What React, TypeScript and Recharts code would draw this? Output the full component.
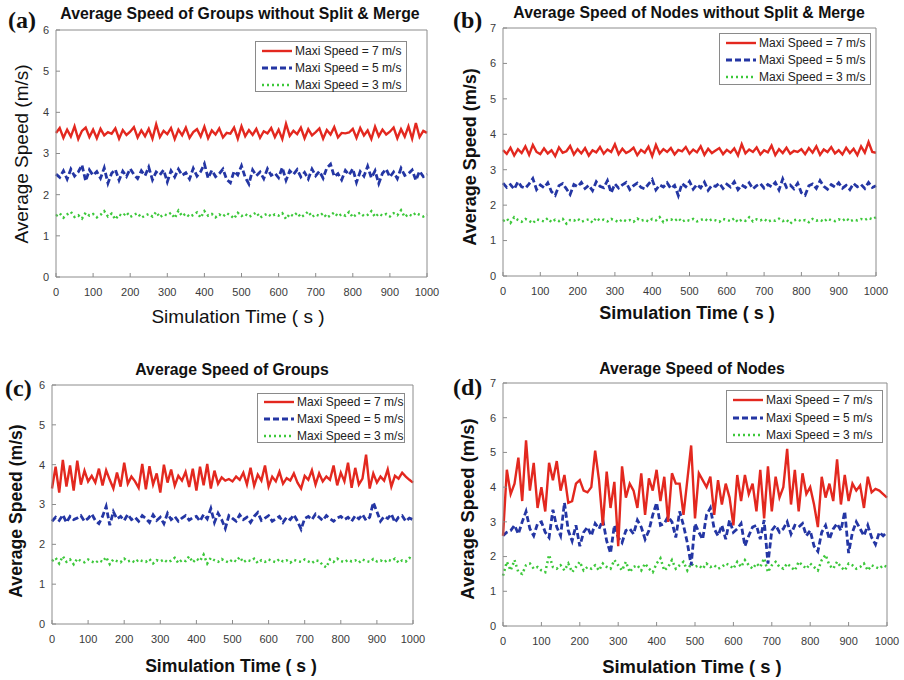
import { Line, LineChart, XAxis, YAxis } from "recharts";

// simulation time (s), one sample every 10 s
const TIME = [
  0, 10, 20, 30, 40, 50, 60, 70, 80, 90, 100, 110, 120, 130, 140, 150, 160, 170, 180, 190,
  200, 210, 220, 230, 240, 250, 260, 270, 280, 290, 300, 310, 320, 330, 340, 350, 360, 370, 380, 390,
  400, 410, 420, 430, 440, 450, 460, 470, 480, 490, 500, 510, 520, 530, 540, 550, 560, 570, 580, 590,
  600, 610, 620, 630, 640, 650, 660, 670, 680, 690, 700, 710, 720, 730, 740, 750, 760, 770, 780, 790,
  800, 810, 820, 830, 840, 850, 860, 870, 880, 890, 900, 910, 920, 930, 940, 950, 960, 970, 980, 990,
  1000,
];
const X_TICKS = [0, 100, 200, 300, 400, 500, 600, 700, 800, 900, 1000];
const Y_TICKS_6 = [0, 1, 2, 3, 4, 5, 6];
const Y_TICKS_7 = [0, 1, 2, 3, 4, 5, 6, 7];
const LEGEND_LABELS = ["Maxi Speed = 7 m/s", "Maxi Speed = 5 m/s", "Maxi Speed = 3 m/s"];

// (a) groups without split & merge
const A_RED = [
  3.50, 3.62, 3.38, 3.58, 3.41, 3.66, 3.35, 3.55, 3.63, 3.40,
  3.58, 3.37, 3.60, 3.44, 3.52, 3.48, 3.61, 3.36, 3.57, 3.45,
  3.53, 3.64, 3.39, 3.56, 3.42, 3.60, 3.36, 3.71, 3.40, 3.55,
  3.47, 3.62, 3.35, 3.58, 3.44, 3.63, 3.38, 3.52, 3.59, 3.41,
  3.65, 3.37, 3.56, 3.46, 3.61, 3.39, 3.50, 3.48, 3.63, 3.36,
  3.66, 3.42, 3.57, 3.45, 3.60, 3.38, 3.54, 3.49, 3.62, 3.40,
  3.58, 3.35, 3.72, 3.43, 3.55, 3.47, 3.63, 3.37, 3.59, 3.44,
  3.52, 3.61, 3.36, 3.57, 3.46, 3.64, 3.39, 3.50, 3.49, 3.51,
  3.60, 3.38, 3.62, 3.44, 3.56, 3.35, 3.65, 3.42, 3.58, 3.46,
  3.53, 3.63, 3.37, 3.59, 3.41, 3.66, 3.36, 3.74, 3.40, 3.55,
  3.50,
];
const A_BLUE = [
  2.50, 2.42, 2.58, 2.38, 2.62, 2.45, 2.55, 2.72, 2.33, 2.60,
  2.47, 2.56, 2.40, 2.65, 2.28, 2.52, 2.61, 2.35, 2.57, 2.44,
  2.63, 2.49, 2.39, 2.58, 2.46, 2.67, 2.36, 2.55, 2.48, 2.60,
  2.31, 2.58, 2.43, 2.62, 2.47, 2.53, 2.38, 2.64, 2.45, 2.56,
  2.75, 2.40, 2.59, 2.44, 2.51, 2.62, 2.37, 2.29, 2.57, 2.48,
  2.70, 2.42, 2.26, 2.60, 2.46, 2.55, 2.39, 2.63, 2.47, 2.52,
  2.41, 2.66, 2.35, 2.58, 2.49, 2.61, 2.43, 2.54, 2.38, 2.62,
  2.46, 2.57, 2.40, 2.65, 2.74, 2.44, 2.51, 2.36, 2.59, 2.48,
  2.63, 2.30, 2.56, 2.45, 2.69, 2.41, 2.58, 2.27, 2.52, 2.62,
  2.43, 2.55, 2.39, 2.64, 2.47, 2.51, 2.60, 2.35, 2.57, 2.44,
  2.50,
];
const A_GREEN = [
  1.48, 1.55, 1.44, 1.52, 1.58, 1.46, 1.50, 1.42, 1.56, 1.49,
  1.53, 1.45, 1.51, 1.60, 1.47, 1.54, 1.40, 1.52, 1.48, 1.57,
  1.46, 1.51, 1.55, 1.44, 1.49, 1.53, 1.47, 1.58, 1.45, 1.52,
  1.50, 1.56, 1.43, 1.61, 1.48, 1.54, 1.46, 1.51, 1.57, 1.44,
  1.60, 1.49, 1.53, 1.45, 1.52, 1.47, 1.55, 1.50, 1.42, 1.56,
  1.48, 1.53, 1.46, 1.51, 1.57, 1.44, 1.50, 1.54, 1.47, 1.52,
  1.49, 1.55, 1.41, 1.53, 1.48, 1.56, 1.45, 1.51, 1.59, 1.46,
  1.52, 1.48, 1.55, 1.44, 1.50, 1.57, 1.47, 1.53, 1.49, 1.58,
  1.45, 1.52, 1.56, 1.48, 1.51, 1.60, 1.46, 1.54, 1.49, 1.53,
  1.47, 1.55, 1.50, 1.62, 1.46, 1.53, 1.48, 1.56, 1.51, 1.47,
  1.52,
];

// (b) nodes without split & merge
const B_RED = [
  3.55, 3.45, 3.62, 3.40, 3.58, 3.47, 3.66, 3.42, 3.70, 3.50,
  3.44, 3.60, 3.46, 3.55, 3.38, 3.63, 3.48, 3.52, 3.67, 3.43,
  3.58, 3.46, 3.61, 3.40, 3.55, 3.49, 3.64, 3.45, 3.57, 3.50,
  3.72, 3.44, 3.59, 3.47, 3.53, 3.62, 3.41, 3.56, 3.48, 3.65,
  3.38, 3.70, 3.46, 3.58, 3.50, 3.61, 3.43, 3.56, 3.52, 3.64,
  3.45, 3.57, 3.49, 3.66, 3.42, 3.59, 3.47, 3.54, 3.61, 3.44,
  3.56, 3.48, 3.60, 3.40, 3.72, 3.46, 3.57, 3.50, 3.63, 3.43,
  3.55, 3.49, 3.68, 3.41, 3.58, 3.47, 3.62, 3.45, 3.53, 3.50,
  3.58, 3.44, 3.61, 3.48, 3.66, 3.42, 3.57, 3.50, 3.64, 3.46,
  3.55, 3.43, 3.62, 3.47, 3.59, 3.41, 3.66, 3.48, 3.78, 3.50,
  3.48,
];
const B_BLUE = [
  2.62, 2.50, 2.58, 2.45, 2.66, 2.52, 2.48, 2.60, 2.75, 2.44,
  2.57, 2.49, 2.63, 2.38, 2.28, 2.55, 2.61, 2.46, 2.30, 2.58,
  2.52, 2.64, 2.47, 2.56, 2.41, 2.66, 2.53, 2.49, 2.69, 2.35,
  2.60, 2.48, 2.57, 2.64, 2.44, 2.55, 2.62, 2.50, 2.46, 2.59,
  2.72, 2.43, 2.57, 2.51, 2.63, 2.47, 2.56, 2.27, 2.61, 2.52,
  2.67, 2.45, 2.58, 2.49, 2.65, 2.42, 2.56, 2.53, 2.62, 2.47,
  2.59, 2.51, 2.66, 2.44, 2.57, 2.50, 2.63, 2.46, 2.55, 2.61,
  2.48, 2.58, 2.52, 2.64, 2.43, 2.74, 2.50, 2.57, 2.46, 2.62,
  2.35, 2.28, 2.55, 2.60, 2.47, 2.69, 2.53, 2.45, 2.58, 2.51,
  2.63, 2.48, 2.56, 2.44, 2.61, 2.52, 2.58, 2.47, 2.64, 2.50,
  2.55,
];
const B_GREEN = [
  1.55, 1.62, 1.50, 1.66, 1.58, 1.53, 1.61, 1.56, 1.49, 1.60,
  1.57, 1.54, 1.63, 1.52, 1.59, 1.55, 1.61, 1.48, 1.58, 1.56,
  1.62, 1.53, 1.57, 1.60, 1.51, 1.64, 1.56, 1.59, 1.54, 1.61,
  1.57, 1.52, 1.60, 1.55, 1.58, 1.53, 1.62, 1.56, 1.59, 1.54,
  1.61, 1.57, 1.66, 1.52, 1.58, 1.60, 1.55, 1.63, 1.53, 1.59,
  1.56, 1.61, 1.54, 1.58, 1.62, 1.55, 1.60, 1.57, 1.53, 1.61,
  1.58, 1.55, 1.63, 1.52, 1.59, 1.56, 1.66, 1.54, 1.60, 1.57,
  1.61, 1.53, 1.58, 1.56, 1.62, 1.55, 1.59, 1.48, 1.57, 1.60,
  1.54, 1.58, 1.52, 1.61, 1.56, 1.59, 1.53, 1.62, 1.57, 1.55,
  1.60, 1.56, 1.63, 1.54, 1.59, 1.57, 1.61, 1.58, 1.64, 1.60,
  1.66,
];

// (c) groups
const C_RED = [
  3.40, 3.95, 3.30, 4.12, 3.45, 3.98, 3.35, 4.10, 3.50, 3.85,
  3.58, 3.72, 3.55, 3.90, 3.48, 3.86, 3.62, 3.40, 3.80, 3.45,
  4.05, 3.52, 3.70, 3.58, 3.42, 4.02, 3.38, 3.96, 3.50, 3.78,
  3.30, 4.00, 3.55, 3.88, 3.47, 3.72, 3.60, 3.82, 3.44, 3.90,
  3.35, 3.95, 3.48, 4.02, 3.40, 3.85, 3.52, 3.68, 3.60, 3.64,
  3.58, 3.70, 3.62, 3.80, 3.50, 3.92, 3.47, 3.75, 3.60, 3.98,
  3.45, 3.70, 3.58, 3.82, 3.52, 3.66, 3.60, 3.78, 3.55, 3.40,
  3.72, 3.62, 3.86, 3.50, 3.78, 3.58, 3.70, 3.62, 3.98, 3.48,
  3.80, 3.58, 4.05, 3.42, 3.92, 3.50, 3.65, 4.25, 3.40, 3.78,
  3.55, 3.70, 3.60, 3.88, 3.45, 3.72, 3.65, 3.80, 3.70, 3.62,
  3.55,
];
const C_BLUE = [
  2.58, 2.68, 2.60, 2.74, 2.55, 2.70, 2.62, 2.66, 2.72, 2.58,
  2.65, 2.76, 2.60, 2.52, 2.70, 2.95, 2.48, 2.82, 2.64, 2.70,
  2.60, 2.75, 2.62, 2.68, 2.58, 2.72, 2.65, 2.55, 2.74, 2.60,
  2.68, 2.52, 2.78, 2.62, 2.70, 2.58, 2.66, 2.72, 2.61, 2.67,
  2.70, 2.58, 2.75, 2.64, 2.90, 2.55, 2.78, 2.62, 2.40, 2.72,
  2.65, 2.58, 2.74, 2.62, 2.68, 2.55, 2.70, 2.80, 2.60, 2.66,
  2.72, 2.58, 2.64, 2.70, 2.55, 2.68, 2.62, 2.74, 2.58, 2.38,
  2.65, 2.70, 2.62, 2.76, 2.68, 2.60, 2.72, 2.64, 2.58, 2.66,
  2.70, 2.62, 2.68, 2.58, 2.72, 2.64, 2.75, 2.60, 2.68, 3.05,
  2.82, 2.58, 2.70, 2.65, 2.76, 2.55, 2.68, 2.72, 2.58, 2.66,
  2.62,
];
const C_GREEN = [
  1.58, 1.66, 1.52, 1.70, 1.56, 1.62, 1.50, 1.64, 1.58, 1.55,
  1.62, 1.57, 1.53, 1.60, 1.56, 1.68, 1.50, 1.62, 1.58, 1.55,
  1.64, 1.57, 1.60, 1.54, 1.62, 1.58, 1.56, 1.63, 1.52, 1.60,
  1.57, 1.62, 1.55, 1.59, 1.66, 1.53, 1.61, 1.58, 1.70, 1.55,
  1.64, 1.58, 1.74, 1.52, 1.66, 1.60, 1.56, 1.63, 1.58, 1.54,
  1.62, 1.57, 1.68, 1.55, 1.61, 1.58, 1.64, 1.53, 1.60, 1.56,
  1.62, 1.58, 1.55, 1.63, 1.57, 1.60, 1.54, 1.61, 1.58, 1.56,
  1.62, 1.57, 1.53, 1.60, 1.58, 1.48, 1.42, 1.62, 1.56, 1.64,
  1.58, 1.55, 1.61, 1.57, 1.60, 1.54, 1.62, 1.58, 1.56, 1.63,
  1.57, 1.60, 1.55, 1.62, 1.58, 1.64, 1.54, 1.60, 1.57, 1.66,
  1.62,
];

// (d) nodes
const D_RED = [
  2.60, 4.50, 3.80, 4.10, 4.85, 3.60, 5.35, 3.90, 4.70, 3.40,
  4.00, 3.30, 4.70, 4.20, 4.75, 3.90, 4.35, 3.55, 3.60, 4.10,
  4.20, 3.90, 3.85, 4.00, 5.05, 4.20, 2.90, 4.45, 3.40, 4.15,
  2.30, 4.60, 3.70, 4.10, 3.90, 3.40, 4.40, 3.20, 4.25, 3.90,
  4.50, 3.60, 4.30, 3.00, 4.40, 4.10, 4.10, 3.20, 4.20, 5.20,
  3.10, 4.40, 4.20, 4.00, 4.30, 3.20, 4.20, 3.50, 4.10, 3.70,
  2.90, 4.35, 3.60, 4.35, 3.80, 4.10, 3.30, 4.50, 3.10, 4.60,
  3.30, 4.30, 3.70, 4.00, 5.10, 3.50, 4.50, 3.30, 4.40, 3.80,
  4.00, 3.50, 2.85, 4.30, 3.70, 4.10, 3.60, 4.80, 3.50, 4.35,
  3.60, 4.10, 3.90, 4.05, 3.40, 4.30, 3.85, 3.95, 3.90, 3.80,
  3.70,
];
const D_BLUE = [
  2.60, 2.70, 2.75, 2.90, 2.65, 3.00, 3.30, 2.80, 2.60, 2.95,
  3.00, 2.70, 2.55, 3.35, 2.85, 2.60, 3.55, 2.75, 2.45, 2.90,
  2.30, 2.70, 2.85, 2.60, 2.95, 2.80, 3.05, 2.45, 2.10, 2.90,
  2.55, 2.40, 2.75, 2.80, 2.65, 3.05, 2.85, 2.50, 2.75, 3.20,
  3.55, 2.90, 2.95, 3.15, 3.00, 2.55, 3.30, 2.90, 2.40, 1.75,
  2.95, 2.70, 2.50, 3.20, 3.40, 2.80, 2.60, 2.90, 2.50, 3.05,
  2.70, 2.80, 2.95, 2.30, 2.60, 2.85, 2.90, 2.50, 3.05, 1.80,
  2.75, 2.90, 2.70, 2.80, 3.00, 2.65, 2.90, 2.85, 2.95, 2.60,
  2.75, 2.30, 2.15, 2.70, 2.90, 2.50, 2.80, 2.95, 2.75, 3.30,
  2.10, 2.70, 3.00, 2.80, 2.60, 2.90, 2.55, 2.35, 2.70, 2.60,
  2.70,
];
const D_GREEN = [
  1.45, 1.85, 1.60, 1.90, 1.55, 1.50, 1.75, 1.80, 1.65, 1.70,
  1.60, 1.55, 2.05, 1.70, 1.65, 1.75, 1.60, 1.80, 1.55, 1.70,
  1.85, 1.60, 1.70, 1.65, 1.75, 1.60, 1.80, 1.70, 1.65, 1.90,
  1.75, 1.60, 1.85, 1.55, 1.70, 1.75, 1.60, 1.80, 1.65, 1.55,
  1.80, 1.95, 1.60, 1.70, 1.90, 1.65, 1.75, 1.85, 1.60, 1.80,
  1.70, 1.75, 1.65, 1.80, 1.70, 1.75, 1.65, 1.70, 1.80, 1.75,
  1.65, 1.85, 1.70, 1.90, 1.75, 1.65, 1.80, 1.70, 1.95, 1.55,
  1.75, 1.85, 1.70, 1.65, 1.80, 1.70, 1.60, 1.85, 1.75, 1.65,
  1.80, 1.70, 1.60, 1.90, 2.05, 1.75, 1.65, 1.85, 1.70, 1.60,
  1.80, 1.75, 1.65, 1.70, 1.80, 1.60, 1.75, 1.70, 1.65, 1.75,
  1.70,
];

const RED = "#e3281f";
const BLUE = "#2436a4";
const GREEN = "#3cc83a";
const AXIS = "#8c8c8c";
const SANS = "'Liberation Sans', Arial, sans-serif";

interface Box { x: number; y: number; w: number; h: number }
interface Pt { x: number; y: number }

interface PanelCfg {
  tag: string;
  tagPos: Pt;
  title: string;
  titlePos: Pt;
  plot: Box;
  yTicks: number[];
  legend: Box;
  yLabelPos: Pt;
  xLabelPos: Pt;
  labelSize: number;
  labelBold: boolean;
}

function Txt({ pos, size, bold, rotate, children, family = SANS, left }: {
  pos: Pt; size: number; bold?: boolean; rotate?: boolean; children: string; family?: string; left?: boolean;
}) {
  return (
    <div
      style={{
        position: "absolute",
        left: pos.x,
        top: pos.y,
        transform: `translate(${left ? "0" : "-50%"}, -50%)${rotate ? " rotate(-90deg)" : ""}`,
        fontFamily: family,
        fontSize: size,
        fontWeight: bold ? "bold" : "normal",
        lineHeight: 1,
        whiteSpace: "nowrap",
        color: "#111",
      }}
    >
      {children}
    </div>
  );
}

function Legend({ box }: { box: Box }) {
  const styles = [
    { color: RED, dash: undefined, width: 2.4 },
    { color: BLUE, dash: "6 3", width: 2.8 },
    { color: GREEN, dash: "2 3", width: 2.4 },
  ];
  return (
    <div
      style={{
        position: "absolute",
        left: box.x,
        top: box.y,
        width: box.w,
        height: box.h,
        border: "1px solid #8a8a8a",
        background: "#fff",
        boxSizing: "border-box",
      }}
    >
      {LEGEND_LABELS.map((label, i) => (
        <div
          key={label}
          style={{
            position: "absolute",
            left: 6,
            top: (box.h * (2 * i + 1)) / 6 - 7,
            height: 14,
            display: "flex",
            alignItems: "center",
          }}
        >
          <svg width={30} height={6}>
            <line x1={0} y1={3} x2={30} y2={3} stroke={styles[i].color} strokeWidth={styles[i].width} strokeDasharray={styles[i].dash} />
          </svg>
          <span style={{ marginLeft: 3, fontFamily: SANS, fontSize: 12, color: "#222" }}>{label}</span>
        </div>
      ))}
    </div>
  );
}

function Panel({ cfg, red, blue, green }: { cfg: PanelCfg; red: number[]; blue: number[]; green: number[] }) {
  const { plot, yTicks } = cfg;
  const padL = 50;
  const padT = 5;
  const padR = 16;
  const padB = 30;
  const yMax = yTicks[yTicks.length - 1];
  const rows = TIME.map((t, i) => ({ t, red: red[i], blue: blue[i], green: green[i] }));
  const tickStyle = { fontSize: 11, fill: "#3a3a3a", fontFamily: SANS };

  return (
    <>
      <div style={{ position: "absolute", left: plot.x - padL, top: plot.y - padT }}>
        <LineChart
          width={plot.w + padL + padR}
          height={plot.h + padT + padB}
          data={rows}
          margin={{ top: padT - 1, right: padR - 1, bottom: padB - 20, left: 0 }}
        >
          <XAxis
            dataKey="t"
            type="number"
            domain={[0, 1000]}
            ticks={X_TICKS}
            interval={0}
            height={20}
            stroke={AXIS}
            tickSize={-4}
            tickMargin={15}
            tick={tickStyle}
          />
          <XAxis
            xAxisId="top"
            orientation="top"
            dataKey="t"
            type="number"
            domain={[0, 1000]}
            ticks={X_TICKS}
            interval={0}
            height={1}
            stroke={AXIS}
            tickSize={-4}
            tick={false}
          />
          <YAxis
            type="number"
            domain={[0, yMax]}
            ticks={yTicks}
            interval={0}
            width={50}
            stroke={AXIS}
            tickSize={-4}
            tickMargin={11}
            tick={tickStyle}
          />
          <YAxis
            yAxisId="right"
            orientation="right"
            type="number"
            domain={[0, yMax]}
            ticks={yTicks}
            interval={0}
            width={1}
            stroke={AXIS}
            tickSize={-4}
            tick={false}
          />
          <Line dataKey="green" stroke={GREEN} strokeWidth={2.5} strokeDasharray="2 3" dot={false} isAnimationActive={false} />
          <Line dataKey="blue" stroke={BLUE} strokeWidth={2.8} strokeDasharray="6 3" dot={false} isAnimationActive={false} />
          <Line dataKey="red" stroke={RED} strokeWidth={2.4} dot={false} isAnimationActive={false} />
        </LineChart>
      </div>
      <Legend box={cfg.legend} />
      <Txt pos={cfg.titlePos} size={15.8} bold>{cfg.title}</Txt>
      <Txt pos={cfg.tagPos} size={24} bold left family="'Liberation Serif', 'Times New Roman', serif">{cfg.tag}</Txt>
      <Txt pos={cfg.yLabelPos} size={cfg.labelSize} bold={cfg.labelBold} rotate>Average Speed (m/s)</Txt>
      <Txt pos={cfg.xLabelPos} size={cfg.labelSize} bold={cfg.labelBold}>Simulation Time ( s )</Txt>
    </>
  );
}

const PANEL_A: PanelCfg = {
  tag: "(a)", tagPos: { x: 8, y: 20 },
  title: "Average Speed of Groups without Split & Merge", titlePos: { x: 240, y: 14 },
  plot: { x: 56, y: 30, w: 371, h: 247 }, yTicks: Y_TICKS_6,
  legend: { x: 255, y: 41, w: 152, h: 51 },
  yLabelPos: { x: 21, y: 154 }, xLabelPos: { x: 238, y: 316 },
  labelSize: 19, labelBold: false,
};
const PANEL_B: PanelCfg = {
  tag: "(b)", tagPos: { x: 453, y: 20 },
  title: "Average Speed of Nodes without Split & Merge", titlePos: { x: 689, y: 13 },
  plot: { x: 503, y: 28, w: 373, h: 248 }, yTicks: Y_TICKS_7,
  legend: { x: 719, y: 33, w: 152, h: 52 },
  yLabelPos: { x: 470, y: 157 }, xLabelPos: { x: 687, y: 313 },
  labelSize: 18, labelBold: true,
};
const PANEL_C: PanelCfg = {
  tag: "(c)", tagPos: { x: 5, y: 388 },
  title: "Average Speed of Groups", titlePos: { x: 232, y: 370 },
  plot: { x: 52, y: 385, w: 361, h: 239 }, yTicks: Y_TICKS_6,
  legend: { x: 257, y: 393, w: 148, h: 50 },
  yLabelPos: { x: 17, y: 511 }, xLabelPos: { x: 231, y: 667 },
  labelSize: 17.6, labelBold: true,
};
const PANEL_D: PanelCfg = {
  tag: "(d)", tagPos: { x: 453, y: 387 },
  title: "Average Speed of Nodes", titlePos: { x: 692, y: 369 },
  plot: { x: 503, y: 383, w: 384, h: 243 }, yTicks: Y_TICKS_7,
  legend: { x: 726, y: 390, w: 157, h: 53 },
  yLabelPos: { x: 468, y: 509 }, xLabelPos: { x: 692, y: 667 },
  labelSize: 18.4, labelBold: true,
};

export default function App() {
  return (
    <div style={{ position: "absolute", left: 0, top: 0, width: 904, height: 680, background: "#fff", overflow: "hidden" }}>
      <Panel cfg={PANEL_A} red={A_RED} blue={A_BLUE} green={A_GREEN} />
      <Panel cfg={PANEL_B} red={B_RED} blue={B_BLUE} green={B_GREEN} />
      <Panel cfg={PANEL_C} red={C_RED} blue={C_BLUE} green={C_GREEN} />
      <Panel cfg={PANEL_D} red={D_RED} blue={D_BLUE} green={D_GREEN} />
    </div>
  );
}
